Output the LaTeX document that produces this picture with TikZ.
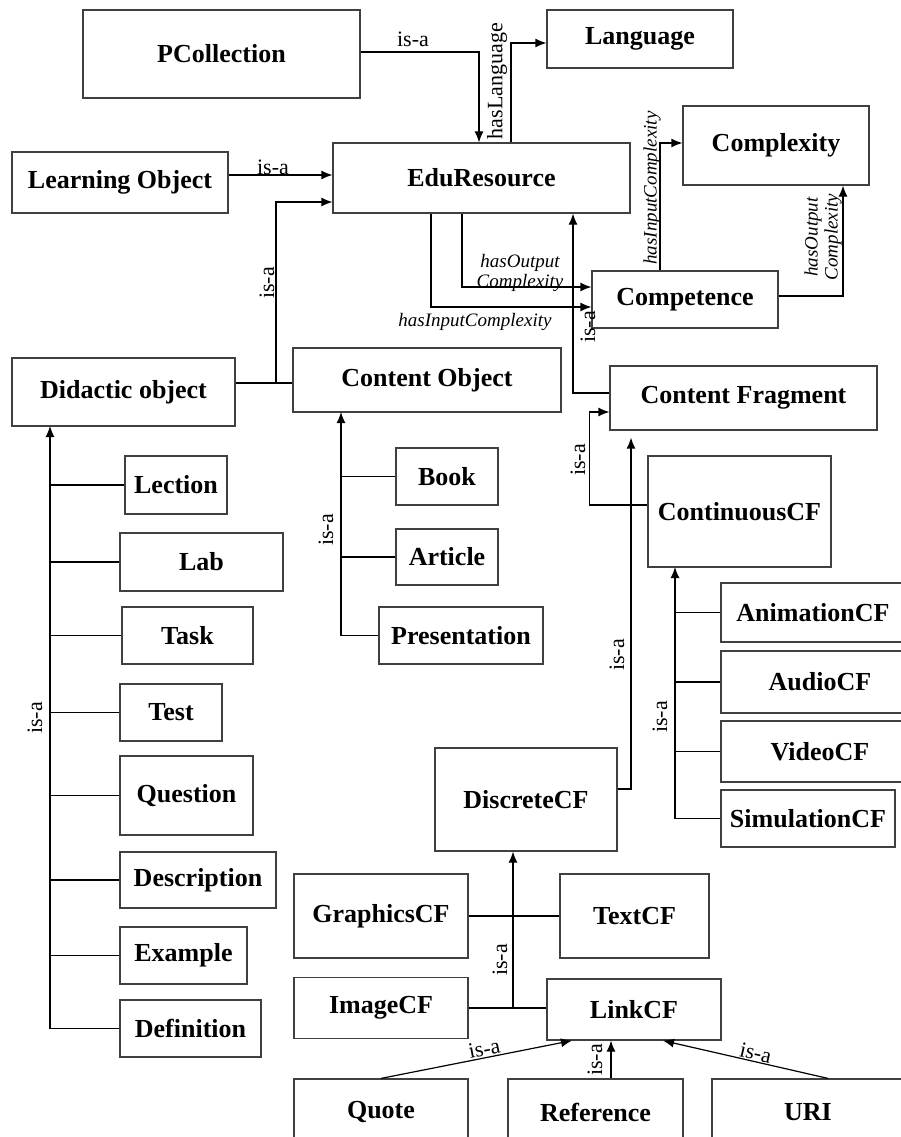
\documentclass[tikz,border=0pt]{standalone}
\usepackage{fontspec}
\setmainfont{Liberation Serif}
\usetikzlibrary{arrows.meta}
\tikzset{
  cls/.style={draw=black!75,line width=1.2pt,inner sep=0pt,font=\fontsize{26}{28}\selectfont\bfseries},
  rel/.style={font=\fontsize{22}{22}\selectfont,inner sep=1pt},
  prop/.style={font=\fontsize{19}{20}\selectfont\itshape,inner sep=1pt,align=center},
  wire/.style={line width=1.2pt},
}
\begin{document}
\begin{tikzpicture}[x=1pt,y=-1pt,>={Latex[length=11pt,width=9pt]}]
\useasboundingbox (0,0) rectangle (901,1137);
\clip (0,0) rectangle (901,1137);
% classes
\node[cls,minimum width=277pt,minimum height=88pt] (pcol) at (221.5,54) {PCollection};
\node[cls,minimum width=186pt,minimum height=58pt] (lang) at (640,39) {Language};
\node[cls,minimum width=216pt,minimum height=61pt] (lobj) at (120,182.5) {Learning Object};
\node[cls,minimum width=297pt,minimum height=70pt] (edu) at (481.5,178) {EduResource};
\node[cls,minimum width=186pt,minimum height=79pt] (cplx) at (776,145.5) {Complexity};
\node[cls,minimum width=186pt,minimum height=57pt] (comp) at (685,299.5) {Competence};
\node[cls,minimum width=223pt,minimum height=68pt] (did) at (123.5,392) {Didactic object};
\node[cls,minimum width=268pt,minimum height=64pt] (cobj) at (427,380) {Content Object};
\node[cls,minimum width=267pt,minimum height=64pt] (cfrag) at (743.5,398) {Content Fragment};
\node[cls,minimum width=183pt,minimum height=111pt] (cont) at (739.5,511.5) {ContinuousCF};
\node[cls,minimum width=182pt,minimum height=103pt] (disc) at (526,799.5) {DiscreteCF};
% didactic objects
\node[cls,minimum width=102pt,minimum height=58pt] (lection) at (176,485) {Lection};
\node[cls,minimum width=163pt,minimum height=58pt] (lab) at (201.5,562) {Lab};
\node[cls,minimum width=131pt,minimum height=57pt] (task) at (187.5,635.5) {Task};
\node[cls,minimum width=102pt,minimum height=57pt] (test) at (171,712.5) {Test};
\node[cls,minimum width=133pt,minimum height=79pt] (quest) at (186.5,795.5) {Question};
\node[cls,minimum width=156pt,minimum height=56pt] (descr) at (198,880) {Description};
\node[cls,minimum width=127pt,minimum height=57pt] (examp) at (183.5,955.5) {Example};
\node[cls,minimum width=141pt,minimum height=57pt] (defin) at (190.5,1028.5) {Definition};
% content objects
\node[cls,minimum width=102pt,minimum height=57pt] (book) at (447,476.5) {Book};
\node[cls,minimum width=102pt,minimum height=56pt] (article) at (447,557) {Article};
\node[cls,minimum width=164pt,minimum height=57pt] (pres) at (461,635.5) {Presentation};
% continuous fragments
\node[cls,minimum width=184pt,minimum height=59pt] (anim) at (813,612.5) {AnimationCF};
\node[cls,minimum width=198pt,minimum height=62pt] (audio) at (820,682) {AudioCF};
\node[cls,minimum width=198pt,minimum height=61pt] (video) at (820,751.5) {VideoCF};
\node[cls,minimum width=174pt,minimum height=57pt] (simul) at (808,818.5) {SimulationCF};
% discrete fragments
\node[cls,minimum width=174pt,minimum height=84pt] (graph) at (381,916) {GraphicsCF};
\node[cls,minimum width=149pt,minimum height=84pt] (text) at (634.5,916) {TextCF};
\node[cls,minimum width=174pt,minimum height=61pt] (image) at (381,1008) {ImageCF};
\node[cls,minimum width=174pt,minimum height=61pt] (linkcf) at (634,1009.5) {LinkCF};
\node[cls,minimum width=174pt,minimum height=66pt] (quote) at (381,1112) {Quote};
\node[cls,minimum width=175pt,minimum height=66pt] (ref) at (595.5,1112) {Reference};
\node[cls,minimum width=192pt,minimum height=66pt] (uri) at (808,1112) {URI};
% junctions
\coordinate (jd) at (276,383);
\coordinate (dbus) at (50,426);
\coordinate (obus) at (341,412);
\coordinate (cbus) at (675,567);
\coordinate (fbus) at (513,1008);
% top relations
\draw[wire,->] ([yshift=2pt]pcol.east) -| ([xshift=-2.5pt]edu.north);
\draw[wire,->] ([xshift=29.5pt]edu.north) |- ([yshift=-4pt]lang.west);
\draw[wire,->] ([yshift=7.5pt]lobj.east) -- ([yshift=3pt]edu.west);
\draw[wire,->] ([yshift=9pt]did.east) -- (jd) |- ([yshift=-24pt]edu.west);
\draw[wire] (jd) -- (cobj.west |- jd);
\draw[wire,->] ([xshift=-19.5pt]edu.south) |- ([yshift=12.5pt]comp.west);
\draw[wire,->] ([xshift=-50.5pt]edu.south) |- ([yshift=-7.5pt]comp.west);
\draw[wire,->] ([xshift=-25pt]comp.north) |- ([yshift=2.5pt]cplx.west);
\draw[wire,->] ([yshift=3.5pt]comp.east) -| ([xshift=67pt]cplx.south);
\draw[wire,->] ([yshift=5pt]cfrag.west) -| ([xshift=91.5pt]edu.south);
\draw[wire,->] ([yshift=6.5pt]cont.west) -- ++(-58,0) |- ([yshift=-14pt]cfrag.west);
\draw[wire,->] ([yshift=10.5pt]disc.east) -| ([xshift=-112.5pt,yshift=-7pt]cfrag.south);
% didactic tree
\draw[wire,->] (defin.west) -| (dbus);
\foreach \n in {lection,lab,task,test,quest,descr,examp}
  \draw[wire] (\n.west) -- (\n.west -| dbus);
% content object tree
\draw[wire,->] (pres.west) -| (obus);
\foreach \n in {book,article}
  \draw[wire] (\n.west) -- (\n.west -| obus);
% continuous tree
\draw[wire,->] (simul.west) -| (cbus);
\foreach \n in {anim,audio,video}
  \draw[wire] (\n.west) -- (\n.west -| cbus);
% discrete tree
\draw[wire] (graph.east) -- (text.west);
\draw[wire] (image.east) -- (image.east -| linkcf.west);
\draw[wire,->] (fbus) -- (fbus |- disc.south);
% links
\draw[wire,->] (quote.north) -- ([xshift=-62pt]linkcf.south) node[rel,pos=0.55,sloped,above] (lq) {is-a};
\draw[wire,->] ([xshift=15.5pt]ref.north) -- ([xshift=-23pt]linkcf.south);
\draw[wire,->] ([xshift=20pt]uri.north) -- ([xshift=29pt]linkcf.south) node[rel,pos=0.45,sloped,above] (lu) {is-a};
% labels
\node[rel] (lpcol) at (413,39) {is-a};
\node[rel] (llobj) at (273,167) {is-a};
\node[rel,rotate=90] (ldid) at (267,283) {is-a};
\node[rel,rotate=90] (llang) at (497,81) {hasLanguage};
\node[prop] (lout1) at (520,273) {hasOutput\\Complexity};
\node[prop] (lin1) at (475,322) {hasInputComplexity};
\node[prop,rotate=90] (lin2) at (652,188) {hasInputComplexity};
\node[prop,rotate=90] (lout2) at (823,237) {hasOutput\\Complexity};
\node[rel,rotate=90] (lcf) at (588,327) {is-a};
\node[rel,rotate=90] (lcont) at (578,460) {is-a};
\node[rel,rotate=90] (ldisc) at (617,655) {is-a};
\node[rel,rotate=90] (lcc) at (660,717) {is-a};
\node[rel,rotate=90] (ldd) at (35,718) {is-a};
\node[rel,rotate=90] (lco) at (326,530) {is-a};
\node[rel,rotate=90] (ldc) at (500,960) {is-a};
\node[rel,rotate=90] (lref) at (595,1060) {is-a};
\end{tikzpicture}
\end{document}
